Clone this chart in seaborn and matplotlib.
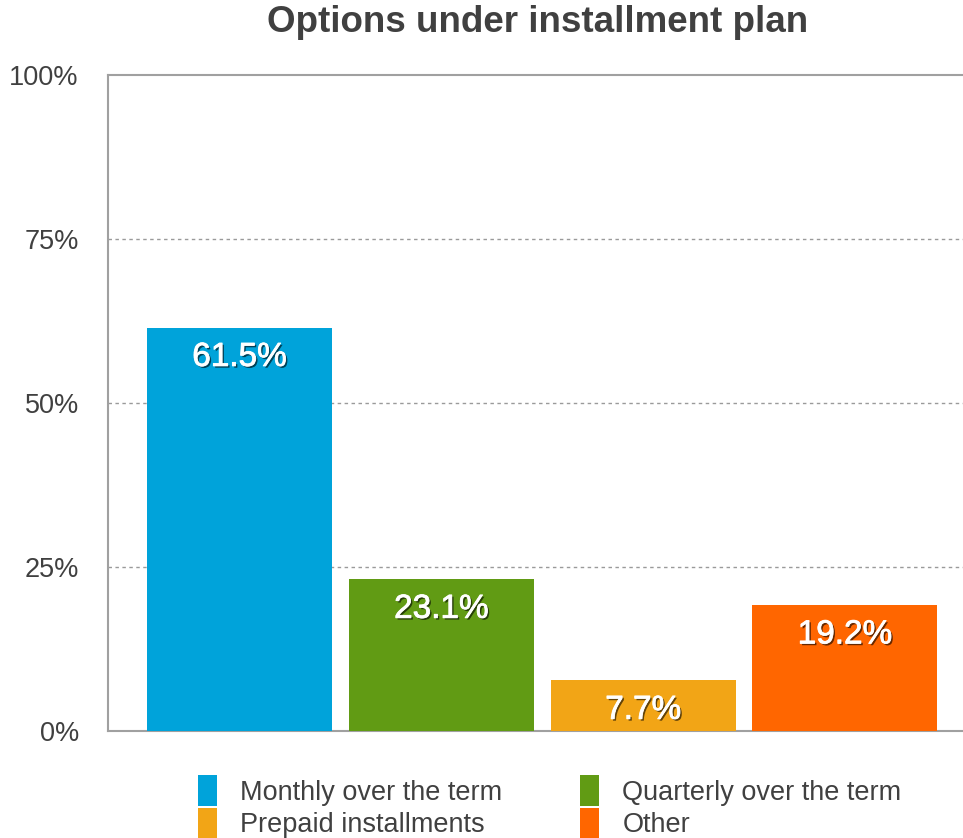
import matplotlib
matplotlib.use("Agg")
import matplotlib.pyplot as plt
import matplotlib.patheffects as pe
import seaborn as sns
import pandas as pd

# Survey results: how installment payments are arranged
categories = ["Monthly over the term", "Quarterly over the term",
              "Prepaid installments", "Other"]
shares = [61.5, 23.1, 7.7, 19.2]
colors = ["#00a3da", "#619b14", "#f2a516", "#ff6600"]
y_ticks = [0, 25, 50, 75, 100]
y_tick_labels = ["0%", "25%", "50%", "75%", "100%"]
title = "Options under installment plan"

df = pd.DataFrame({"option": categories, "share": shares})

sns.set_theme(style="white")
plt.rcParams["font.family"] = ["Liberation Sans", "DejaVu Sans"]

fig = plt.figure(figsize=(9.63, 8.38), dpi=100)
ax = fig.add_axes([108 / 963, 107 / 838, 1 - 108 / 963, 656 / 838])

sns.barplot(data=df, x="option", y="share", hue="option", order=categories,
            hue_order=categories, palette=colors, width=0.917, dodge=False,
            saturation=1, legend=True, linewidth=0, edgecolor="none",
            ax=ax, zorder=3)

ax.set_xlim(-0.652, 3.585)
ax.set_ylim(0, 100)
ax.set_yticks(y_ticks)
ax.set_yticklabels(y_tick_labels)
ax.set_xticks([])
ax.set_xlabel("")
ax.set_ylabel("")
ax.tick_params(axis="y", length=0, pad=21, labelsize=19.5, labelcolor="#404040")

# dotted gridlines at the inner ticks
for v in y_ticks[1:-1]:
    ax.axhline(v, color="#9a9a9a", lw=1.0, ls=(0, (2.5, 2.5)), zorder=1)

for side in ["left", "bottom", "top"]:
    ax.spines[side].set_color("#a0a0a0")
    ax.spines[side].set_linewidth(1.5)
    ax.spines[side].set_visible(True)
ax.spines["right"].set_visible(False)

# value labels inside the bars, white with a soft drop shadow
shadow = [pe.SimplePatchShadow(offset=(1.3, -1.3), shadow_rgbFace="black",
                               alpha=0.6),
          pe.withStroke(linewidth=0.6, foreground="white")]
for i, v in enumerate(shares):
    ax.annotate(f"{v}%", xy=(i, v), xytext=(0, -21.5), textcoords="offset points",
                ha="center", va="center", color="white", fontsize=24,
                path_effects=shadow, zorder=5)

fig.text(538 / 963, 1 - 23 / 838, title, ha="center", va="center",
         fontsize=26.5, fontweight="bold", color="#404040")

handles, labels = ax.get_legend_handles_labels()
ax.get_legend().remove()
order = [0, 2, 1, 3]
fig.legend([handles[k] for k in order], [labels[k] for k in order],
           ncol=2, loc="center", bbox_to_anchor=(549.5 / 963, 1 - 807 / 838),
           frameon=False, fontsize=19.5, labelcolor="#404040",
           handlelength=0.72, handleheight=1.4, handletextpad=0.85,
           labelspacing=0.05, columnspacing=2.86)

fig.savefig("out.png", dpi=100)
